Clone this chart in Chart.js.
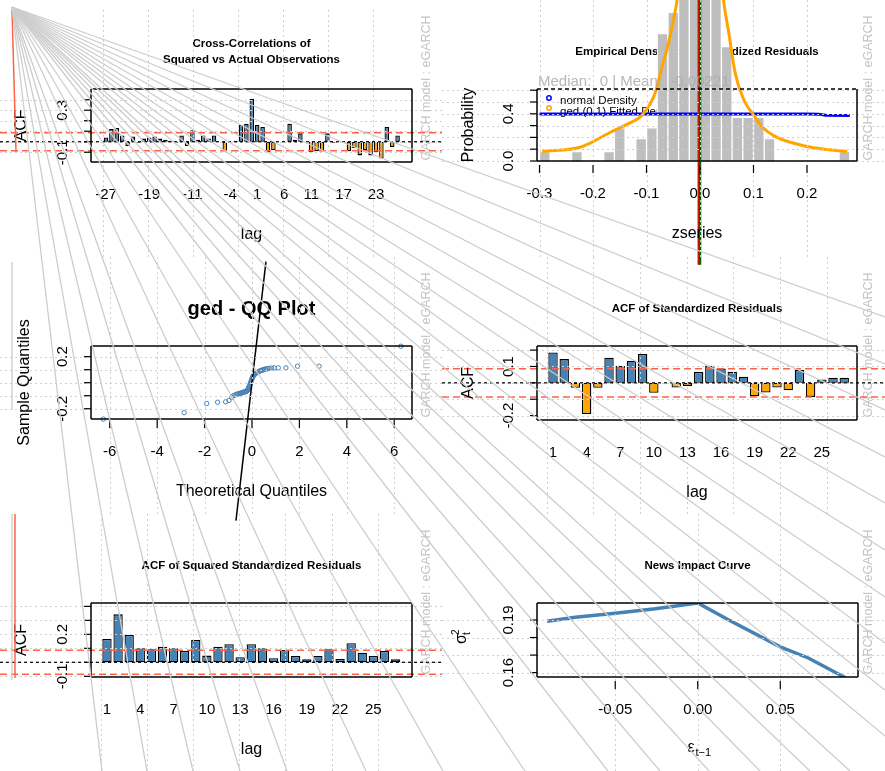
<!DOCTYPE html>
<html>
<head>
<meta charset="utf-8">
<title>eGARCH diagnostics</title>
<script src="https://cdn.jsdelivr.net/npm/chart.js@4.4.1/dist/chart.umd.min.js"></script>
<style>
  html, body { margin: 0; padding: 0; background: #fff; }
  #wrap { position: relative; width: 885px; height: 771px; overflow: hidden; background: #fff; }
  #wrap canvas { position: absolute; }
</style>
</head>
<body>
<div id="wrap"></div>
<script>
// ---- data ----
const ccfLags = [-27,-26,-25,-24,-23,-22,-21,-20,-19,-18,-17,-16,-15,-14,-13,-12,-11,-10,-9,-8,-7,-6,-5,-4,-3,-2,-1,
  0,1,2,3,4,5,6,7,8,9,10,11,12,13,14,15,16,17,18,19,20,21,22,23,24,25,26,27];
const ccfValues = [0.04,0.12,0.13,0.06,-0.04,0.05,-0.01,0.03,0.04,0.05,0.03,0.02,0.01,-0.01,0.06,-0.04,0.11,0.02,0.06,0.03,
  0.06,0.0,-0.09,-0.01,0.01,0.16,0.17,0.41,0.16,0.14,-0.10,-0.08,0.0,0.0,0.17,0.02,0.08,0.0,-0.10,-0.09,
  -0.09,0.08,-0.01,0.0,0.0,-0.09,-0.06,-0.13,-0.08,-0.13,-0.10,-0.16,0.14,-0.05,0.06];
const ccfTickLags = [-27,-19,-11,-4,1,6,11,17,23];

const histMids = [-0.29,-0.23,-0.17,-0.15,-0.11,-0.09,-0.07,-0.05,-0.03,-0.01,0.01,0.03,0.05,0.07,0.09,0.11,0.13,0.27];
const histDens = [0.079,0.079,0.079,0.28,0.19,0.28,1.08,1.26,2.2,2.6,2.6,1.9,0.97,0.37,0.37,0.37,0.19,0.079];
const gedX = [-0.295,-0.221,-0.171,-0.133,-0.108,-0.084,-0.071,-0.059,-0.046,-0.043,-0.03,-0.015,0,0.015,0.03,
  0.044,0.054,0.066,0.082,0.100,0.116,0.141,0.203,0.275];
const gedY = [0.079,0.121,0.235,0.319,0.39,0.574,0.80,0.997,1.28,1.36,2.0,2.8,3.6,2.8,2.0,
  1.36,1.08,0.74,0.517,0.39,0.29,0.206,0.121,0.079];
const normX = [-0.3,-0.2,-0.1,0,0.1,0.2,0.222,0.235,0.28];
const normY = [0.398,0.399,0.399,0.399,0.399,0.398,0.397,0.387,0.386];
const zMedian = 0;
const zMean = -0.00221;
const densTicks = [-0.3,-0.2,-0.1,0.0,0.1,0.2];

const qqTheo = [-6.27,-2.86,-1.91,-1.45,-1.11,-0.97,-0.85,-0.79,-0.72,-0.65,-0.60,-0.55,-0.51,-0.47,-0.43,-0.40,-0.37,
  -0.33,-0.30,-0.27,-0.24,-0.22,-0.19,-0.17,-0.15,-0.13,-0.11,-0.09,-0.07,-0.06,-0.04,-0.02,0.0,0.02,0.04,0.06,0.09,
  0.12,0.15,0.18,0.21,0.25,0.29,0.33,0.37,0.42,0.46,0.50,0.55,0.60,0.66,0.73,0.83,0.94,1.11,1.43,1.92,2.83,6.28];
const qqSample = [-0.28,-0.23,-0.16,-0.15,-0.147,-0.136,-0.112,-0.10,-0.095,-0.089,-0.087,-0.084,-0.082,-0.08,-0.078,
  -0.076,-0.074,-0.072,-0.07,-0.068,-0.066,-0.064,-0.058,-0.05,-0.043,-0.035,-0.027,-0.02,-0.01,0.0,0.008,0.02,0.03,
  0.04,0.048,0.054,0.06,0.066,0.071,0.075,0.078,0.082,0.086,0.09,0.093,0.096,0.099,0.101,0.104,0.106,0.108,0.11,
  0.112,0.114,0.114,0.114,0.127,0.127,0.28];
const qqLineX = [-0.675,0.59];
const qqLineY = [-1.06,0.93];
const qqTicks = [-6,-4,-2,0,2,4,6];

const acfLags = [1,2,3,4,5,6,7,8,9,10,11,12,13,14,15,16,17,18,19,20,21,22,23,24,25,26,27];
const acfValues = [0.186,0.145,-0.03,-0.19,-0.03,0.153,0.104,0.135,0.176,-0.061,0.0,-0.029,-0.02,0.067,0.104,
  0.088,0.067,0.037,-0.082,-0.059,-0.029,-0.045,0.078,-0.086,0.02,0.031,0.031];
const sqValues = [0.167,0.343,0.195,0.10,0.093,0.112,0.10,0.081,0.16,0.048,0.112,0.129,0.036,0.129,0.10,
  0.029,0.088,0.045,0.021,0.045,0.093,0.024,0.136,0.069,0.045,0.081,0.021];
const acfTickLags = [1,4,7,10,13,16,19,22,25];
const acfBound = 0.086;

const nicEps = [-0.0913,-0.0742,-0.05,-0.0257,0,0.0188,0.05,0.0673,0.0895];
const nicSigma = [0.1893,0.1916,0.1939,0.1964,0.1997,0.19,0.1747,0.1682,0.1571];
const nicTicks = [-0.05,0,0.05];
const nicTickLabels = ['-0.05','0.00','0.05'];

// stray series that spill over the whole device (figure units, y measured downwards)
const fanOrigin = [12, 7];
const fanBottomX = [102,147,193,240,287,366,443,525,608,660,709,760,810,850];
const fanRightY = [317,364,410,457,503,550,597,643,690,736];
const strayGrey = [[[12,262],[12,410]], [[12,514],[12,680]]];
const strayRed = [[[12,10],[16,152]], [[15,514],[15,678]]];

// ---- drawing helpers ----
const FONT = '"Liberation Sans", Arial, Helvetica, sans-serif';
const BLUE = '#4682B4', ORANGE = '#FFA500', RED = '#FF6347';
const SIDE = 'GARCH model : eGARCH';
const PANELS = {};

function seg(ctx, x1, y1, x2, y2) {
  ctx.beginPath(); ctx.moveTo(x1, y1); ctx.lineTo(x2, y2); ctx.stroke();
}
function vtext(ctx, s, x, y) {
  ctx.save(); ctx.translate(x, y); ctx.rotate(-Math.PI / 2); ctx.fillText(s, 0, 0); ctx.restore();
}
function mount(id, left, top, w, h) {
  const c = document.createElement('canvas');
  c.id = id; c.width = w; c.height = h;
  c.style.left = left + 'px'; c.style.top = top + 'px';
  c.style.width = w + 'px'; c.style.height = h + 'px';
  document.getElementById('wrap').appendChild(c);
  return c;
}
function opts(pad, xr, yr) {
  return {
    responsive: false, animation: false, devicePixelRatio: 1,
    layout: { padding: pad },
    plugins: { legend: { display: false }, tooltip: { enabled: false } },
    scales: {
      x: { type: 'linear', display: false, offset: false, min: xr[0], max: xr[1] },
      y: { type: 'linear', display: false, min: yr[0], max: yr[1] }
    }
  };
}
function refLines() {
  return [
    { value: acfBound, color: RED, width: 1.5, dash: [7, 4] },
    { value: -acfBound, color: RED, width: 1.5, dash: [7, 4] },
    { value: 0, color: '#000', width: 1.2, dash: [3, 3] }
  ];
}

// R-like frame, grid, ticks and labels
const rplot = {
  id: 'rplot',
  beforeDatasetsDraw(chart) {
    const p = PANELS[chart.canvas.id];
    const ctx = chart.ctx, a = chart.chartArea;
    ctx.save();
    ctx.textAlign = 'center';
    ctx.textBaseline = 'middle';
    ctx.fillStyle = '#000';
    ctx.font = 'bold ' + p.titleSize + 'px ' + FONT;
    p.title.forEach((t, i) => ctx.fillText(t, (a.left + a.right) / 2, p.titleY[i]));
    ctx.fillStyle = '#c4c4c4';
    ctx.font = '12.5px ' + FONT;
    vtext(ctx, SIDE, 427, 88);
    if (p.before) p.before(ctx, chart);
    ctx.restore();
  },
  afterDatasetsDraw(chart) {
    const p = PANELS[chart.canvas.id];
    const ctx = chart.ctx, a = chart.chartArea, sx = chart.scales.x, sy = chart.scales.y;
    const W = chart.width, H = chart.height;
    ctx.save();
    if (p.mid) p.mid(ctx, chart);
    ctx.strokeStyle = '#d0d0d0'; ctx.lineWidth = 1; ctx.setLineDash([2, 3]);
    p.gridX.forEach(v => {
      const X = Math.round(sx.getPixelForValue(v)) + 0.5;
      seg(ctx, X, p.gridTop || 0, X, p.gridBottom || H);
    });
    p.gridY.forEach(v => {
      const Y = Math.round(sy.getPixelForValue(v)) + 0.5;
      seg(ctx, 0, Y, W, Y);
    });
    (p.hlines || []).forEach(h => {
      ctx.strokeStyle = h.color; ctx.lineWidth = h.width; ctx.setLineDash(h.dash);
      const Y = sy.getPixelForValue(h.value);
      seg(ctx, 0, Y, W, Y);
    });
    ctx.strokeStyle = '#000'; ctx.lineWidth = 1.5; ctx.setLineDash([]);
    seg(ctx, a.left, a.top, a.left, a.bottom);
    seg(ctx, a.right, a.top, a.right, a.bottom);
    seg(ctx, a.left, a.bottom, a.right, a.bottom);
    if (p.topDash) ctx.setLineDash([4, 3]);
    seg(ctx, a.left, a.top, a.right, a.top);
    ctx.setLineDash([]);
    ctx.lineWidth = 1.2;
    ctx.fillStyle = '#000';
    ctx.font = '15px ' + FONT;
    ctx.textAlign = 'center'; ctx.textBaseline = 'middle';
    p.yTicks.forEach((v, i) => {
      const Y = sy.getPixelForValue(v);
      seg(ctx, a.left - 7, Y, a.left, Y);
      if (p.yLabels[i]) vtext(ctx, p.yLabels[i], a.left - 28, Y);
    });
    p.xTicks.forEach((v, i) => {
      const X = sx.getPixelForValue(v);
      if (p.xTickOff !== undefined) seg(ctx, X, a.bottom + p.xTickOff, X, a.bottom + p.xTickOff + 8);
      ctx.fillText(p.xLabels[i], X, a.bottom + 33);
    });
    ctx.font = '16px ' + FONT;
    const cx = (a.left + a.right) / 2, cy = (a.top + a.bottom) / 2;
    if (p.xTitle) ctx.fillText(p.xTitle, cx, a.bottom + 73);
    if (p.yTitle) vtext(ctx, p.yTitle, p.yTitleX, cy);
    if (p.after) p.after(ctx, chart);
    ctx.restore();
  }
};

function acfBars(lags, vals) {
  return {
    data: lags.map((l, i) => ({ x: l, y: vals[i] })),
    backgroundColor: vals.map(v => v >= 0 ? BLUE : ORANGE),
    borderColor: '#000', borderWidth: 1.3, borderSkipped: false,
    barPercentage: 1, categoryPercentage: 0.84
  };
}

// ---- panel 4: ACF of standardized residuals (drawn first, below panel 2 overhang) ----
PANELS.p4 = {
  title: ['ACF of Standardized Residuals'], titleY: [52], titleSize: 11.5,
  gridX: [0.42, 4.58, 8.75, 12.92, 17.08, 21.25, 25.42], gridY: [-0.2, -0.1, 0, 0.1, 0.2],
  hlines: refLines(),
  yTicks: [-0.2, -0.1, 0, 0.1, 0.2], yLabels: ['-0.2', '', '', '0.1', ''],
  xTicks: acfTickLags, xLabels: acfTickLags.map(String),
  xTitle: 'lag', yTitle: 'ACF', yTitleX: 27
};
new Chart(mount('p4', 442, 257, 443, 257), {
  type: 'bar',
  data: { datasets: [acfBars(acfLags, acfValues)] },
  options: opts({ left: 95, top: 89, right: 28, bottom: 94 }, [-0.43, 28.14], [-0.227, 0.225]),
  plugins: [rplot]
});

// ---- panel 5: ACF of squared standardized residuals ----
PANELS.p5 = {
  title: ['ACF of Squared Standardized Residuals'], titleY: [52], titleSize: 11.5,
  gridX: [0.42, 4.58, 8.75, 12.92, 17.08, 21.25, 25.42], gridY: [-0.1, 0, 0.1, 0.2, 0.3, 0.4],
  hlines: refLines(),
  yTicks: [-0.1, 0, 0.1, 0.2, 0.3, 0.4], yLabels: ['-0.1', '', '', '0.2', '', ''],
  xTicks: acfTickLags, xLabels: acfTickLags.map(String),
  xTitle: 'lag', yTitle: 'ACF', yTitleX: 22
};
new Chart(mount('p5', 0, 514, 442, 257), {
  type: 'bar',
  data: { datasets: [acfBars(acfLags, sqValues)] },
  options: opts({ left: 91, top: 89, right: 30, bottom: 94 }, [-0.44, 28.48], [-0.105, 0.424]),
  plugins: [rplot]
});

// ---- panel 6: news impact curve ----
PANELS.p6 = {
  title: ['News Impact Curve'], titleY: [52], titleSize: 11.5,
  gridX: nicTicks, gridY: [0.16, 0.17, 0.18, 0.19],
  yTicks: [0.16, 0.17, 0.18, 0.19], yLabels: ['0.16', '', '', '0.19'],
  xTicks: nicTicks, xLabels: nicTickLabels, xTickOff: 4,
  after(ctx, chart) {
    const a = chart.chartArea, cx = (a.left + a.right) / 2;
    ctx.textAlign = 'left';
    ctx.font = '16px ' + FONT;
    ctx.fillText('\u03B5', cx - 10, a.bottom + 71);
    ctx.font = '11px ' + FONT;
    ctx.fillText('t\u22121', cx - 2, a.bottom + 76);
    ctx.save();
    ctx.translate(20, (a.top + a.bottom) / 2 + 4);
    ctx.rotate(-Math.PI / 2);
    ctx.font = '16px ' + FONT;
    ctx.fillText('\u03C3', 0, 0);
    ctx.font = '10px ' + FONT;
    ctx.fillText('t', 9, 5);
    ctx.fillText('2', 9, -6);
    ctx.restore();
  }
};
new Chart(mount('p6', 442, 514, 443, 257), {
  type: 'scatter',
  data: { datasets: [{
    data: nicEps.map((e, i) => ({ x: e, y: nicSigma[i] })),
    showLine: true, borderColor: BLUE, borderWidth: 3.5, pointRadius: 0
  }] },
  options: opts({ left: 95, top: 89, right: 27, bottom: 94 }, [-0.0974, 0.0971], [0.1575, 0.1997]),
  plugins: [rplot]
});

// ---- panel 1: cross-correlations ----
PANELS.p1 = {
  title: ['Cross-Correlations of', 'Squared vs Actual Observations'], titleY: [44, 60], titleSize: 11.5,
  gridX: [-27.58, -19.25, -10.92, -2.58, 5.75, 14.08, 22.42], gridTop: 10,
  gridY: [-0.1, 0, 0.1, 0.2, 0.3, 0.4],
  hlines: refLines(),
  yTicks: [-0.1, 0, 0.1, 0.2, 0.3, 0.4], yLabels: ['-0.1', '', '', '', '0.3', ''],
  xTicks: ccfTickLags, xLabels: ccfTickLags.map(String),
  xTitle: 'lag', yTitle: 'ACF', yTitleX: 22
};
new Chart(mount('p1', 0, 0, 442, 257), {
  type: 'bar',
  data: { datasets: [acfBars(ccfLags, ccfValues)] },
  options: opts({ left: 91, top: 89, right: 30, bottom: 95 }, [-29.78, 29.67], [-0.193, 0.502]),
  plugins: [rplot]
});

// ---- panel 2: empirical density ----
PANELS.p2 = {
  title: ['Empirical Density of Standardized Residuals'], titleY: [52], titleSize: 11.5,
  gridX: densTicks, gridY: [0, 0.1, 0.2, 0.3, 0.4, 0.5, 0.6], gridBottom: 257,
  yTicks: [0, 0.1, 0.2, 0.3, 0.4, 0.5, 0.6], yLabels: ['0.0', '', '', '', '0.4', '', ''],
  xTicks: densTicks, xLabels: densTicks.map(v => v.toFixed(1)), xTickOff: 4,
  topDash: true,
  xTitle: 'zseries', yTitle: 'Probability', yTitleX: 27,
  before(ctx, chart) {
    const a = chart.chartArea;
    ctx.textAlign = 'left';
    ctx.fillStyle = '#000';
    ctx.font = '11.5px ' + FONT;
    ctx.fillText('normal Density', a.left + 23, 101);
    ctx.fillText('ged (0,1) Fitted Density', a.left + 23, 112);
    ctx.lineWidth = 1.5;
    ctx.strokeStyle = '#0000FF';
    ctx.beginPath(); ctx.arc(a.left + 12, 98, 2.2, 0, Math.PI * 2); ctx.stroke();
    ctx.strokeStyle = ORANGE;
    ctx.beginPath(); ctx.arc(a.left + 12, 108, 2.2, 0, Math.PI * 2); ctx.stroke();
  },
  mid(ctx, chart) {
    const a = chart.chartArea;
    ctx.textAlign = 'left';
    ctx.textBaseline = 'middle';
    ctx.fillStyle = 'rgba(170,170,170,0.85)';
    ctx.font = '15px ' + FONT;
    ctx.fillText('Median:  ' + zMedian + ' | Mean:  ' + zMean, a.left + 1, 82);
  }
};
new Chart(mount('p2', 442, 0, 443, 270), {
  type: 'bar',
  data: { datasets: [
    { type: 'line', data: [{ x: zMedian, y: -0.88 }, { x: zMedian, y: 5 }], borderColor: '#006400',
      borderWidth: 2.5, pointRadius: 0, clip: false, order: 1 },
    { type: 'line', data: [{ x: zMean, y: -0.88 }, { x: zMean, y: 5 }], borderColor: '#FF0000',
      borderWidth: 2.5, pointRadius: 0, clip: false, order: 2 },
    { type: 'line', data: gedX.map((v, i) => ({ x: v, y: gedY[i] })), borderColor: ORANGE, borderWidth: 3,
      pointRadius: 0, clip: false, cubicInterpolationMode: 'monotone', order: 3 },
    { type: 'line', data: normX.map((v, i) => ({ x: v, y: normY[i] })), borderColor: '#0000FF', borderWidth: 3,
      pointRadius: 0, order: 4 },
    { type: 'bar', data: histMids.map((v, i) => ({ x: v, y: histDens[i] })), backgroundColor: '#bebebe',
      borderColor: '#ffffff', borderWidth: 1, barPercentage: 1, categoryPercentage: 1, clip: false, order: 5 }
  ] },
  options: opts({ left: 95, top: 89, right: 28, bottom: 109 }, [-0.3047, 0.2935], [0, 0.61]),
  plugins: [rplot]
});

// ---- panel 3: QQ plot ----
PANELS.p3 = {
  title: ['ged - QQ Plot'], titleY: [52], titleSize: 20,
  gridX: qqTicks, gridY: [-0.2, -0.1, 0, 0.1, 0.2], gridBottom: 257,
  yTicks: [-0.2, -0.1, 0, 0.1, 0.2], yLabels: ['-0.2', '', '', '', '0.2'],
  xTicks: qqTicks, xLabels: qqTicks.map(String), xTickOff: 1,
  xTitle: 'Theoretical Quantiles', yTitle: 'Sample Quantiles', yTitleX: 25
};
new Chart(mount('p3', 0, 257, 442, 268), {
  type: 'scatter',
  data: { datasets: [
    { data: qqLineX.map((v, i) => ({ x: v, y: qqLineY[i] })), showLine: true, borderColor: '#000',
      borderWidth: 1.5, pointRadius: 0, clip: false, order: 1 },
    { data: qqTheo.map((v, i) => ({ x: v, y: qqSample[i] })), pointRadius: 2.2, pointBorderWidth: 1,
      pointBorderColor: BLUE, pointBackgroundColor: 'rgba(0,0,0,0)', clip: false, order: 2 }
  ] },
  options: opts({ left: 91, top: 89, right: 30, bottom: 106 }, [-6.79, 6.75], [-0.279, 0.282]),
  plugins: [rplot]
});

// ---- stray lines spanning the device, on top of everything ----
const strayLine = (pts, color, w) => ({
  data: pts.map(p => ({ x: p[0], y: p[1] })), showLine: true, borderColor: color,
  borderWidth: w, pointRadius: 0, clip: false
});
const fanSets = fanBottomX.map(x => strayLine([fanOrigin, [x, 771]], '#cdcdcd', 1.3))
  .concat(fanRightY.map(y => strayLine([fanOrigin, [885, y]], '#cdcdcd', 1.3)))
  .concat(strayGrey.map(s => strayLine(s, '#cdcdcd', 1.3)))
  .concat(strayRed.map(s => strayLine(s, '#FF6347', 1.5)));
const ov = mount('ov', 0, 0, 885, 771);
ov.style.pointerEvents = 'none';
new Chart(ov, {
  type: 'scatter',
  data: { datasets: fanSets },
  options: {
    responsive: false, animation: false, devicePixelRatio: 1,
    layout: { padding: 0 },
    plugins: { legend: { display: false }, tooltip: { enabled: false } },
    scales: {
      x: { type: 'linear', display: false, min: 0, max: 885 },
      y: { type: 'linear', display: false, min: 0, max: 771, reverse: true }
    }
  }
});
</script>
</body>
</html>
